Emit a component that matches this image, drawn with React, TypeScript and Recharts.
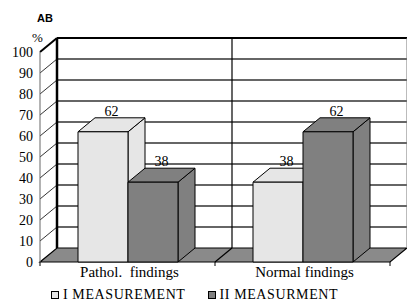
import { BarChart, Bar, XAxis, YAxis, CartesianGrid, Legend, LabelList } from 'recharts';

const CATEGORIES = ['Pathol.  findings', 'Normal findings'];
const MEASUREMENT_I = [62, 38];
const MEASUREMENT_II = [38, 62];
const SERIES_NAMES = ['I MEASUREMENT', 'II MEASURMENT'];
const Y_TICKS = [0, 10, 20, 30, 40, 50, 60, 70, 80, 90, 100];

const data = CATEGORIES.map((name, i) => ({
  name,
  m1: MEASUREMENT_I[i],
  m2: MEASUREMENT_II[i],
}));

// depth of the fake 3d box
const DX = 17;
const DY = -14;
const LIGHT = '#e6e6e6';
const DARK = '#808080';
const FLOOR = '#8a8a8a';
const SERIF = '"Liberation Serif", "Times New Roman", serif';

const Box = (props: any) => {
  const { x, y, width, height, fill } = props;
  if (!height) return null;
  const r = x + width;
  const b = y + height;
  return (
    <g stroke="#000" strokeWidth={1} strokeLinejoin="round">
      <polygon points={`${r},${y} ${r + DX},${y + DY} ${r + DX},${b + DY} ${r},${b}`} fill={fill} />
      <polygon points={`${x},${y} ${x + DX},${y + DY} ${r + DX},${y + DY} ${r},${y}`} fill={fill} />
      <rect x={x} y={y} width={width} height={height} fill={fill} />
    </g>
  );
};

const TopLabel = (props: any) => {
  const { x, y, width, value } = props;
  return (
    <text x={x + width / 2 + DX / 2} y={y + DY - 2} textAnchor="middle" fontSize={14} fontFamily={SERIF} fill="#000">
      {value}
    </text>
  );
};

const wallLine = (props: any) => {
  const { x1, x2, y1, y, height, index } = props;
  const top = y;
  const bottom = y + height;
  const isBottom = Math.abs(y1 - bottom) < 0.5;
  const isTop = Math.abs(y1 - top) < 0.5;
  const band = (x2 - x1) / CATEGORIES.length;
  const bounds = Array.from({ length: CATEGORIES.length + 1 }, (_, k) => x1 + k * band);
  const parts: any[] = [];

  if (isBottom) {
    parts.push(
      <polygon
        key="floor"
        points={`${x1},${bottom} ${x2},${bottom} ${x2 + DX},${bottom + DY} ${x1 + DX},${bottom + DY}`}
        fill={FLOOR}
        stroke="#000"
        strokeWidth={1.2}
      />
    );
    bounds.forEach((bx, k) => {
      if (k > 0 && k < bounds.length - 1) {
        parts.push(<line key={`fd${k}`} x1={bx} y1={bottom} x2={bx + DX} y2={bottom + DY} stroke="#000" strokeWidth={1.2} />);
      }
      parts.push(<line key={`ft${k}`} x1={bx} y1={bottom} x2={bx} y2={bottom + 4} stroke="#000" strokeWidth={1} />);
    });
  } else {
    parts.push(
      <line
        key="back"
        x1={x1 + DX}
        y1={y1 + DY}
        x2={x2 + DX}
        y2={y1 + DY}
        stroke={isTop ? '#000' : '#333'}
        strokeWidth={isTop ? 2.2 : 1.3}
      />
    );
    parts.push(
      <line key="side" x1={x1} y1={y1} x2={x1 + DX} y2={y1 + DY} stroke={isTop ? '#000' : '#333'} strokeWidth={isTop ? 2 : 1} />
    );
  }

  if (isTop) {
    parts.push(<line key="lv" x1={x1 + DX} y1={top + DY} x2={x1 + DX} y2={bottom + DY} stroke="#000" strokeWidth={2.5} />);
    parts.push(<line key="rv" x1={x2 + DX} y1={top + DY} x2={x2 + DX} y2={bottom + DY} stroke="#777" strokeWidth={1} />);
    bounds.slice(1, -1).forEach((bx, k) => {
      parts.push(<line key={`dv${k}`} x1={bx + DX} y1={top + DY} x2={bx + DX} y2={bottom + DY} stroke="#000" strokeWidth={1.2} />);
    });
  }

  return <g key={`wall-${index}`}>{parts}</g>;
};

const LegendBox = (props: any) => {
  const items = props.payload || [];
  return (
    <div style={{ display: 'flex', alignItems: 'center', height: 22, paddingLeft: 51, fontFamily: SERIF, fontSize: 14, letterSpacing: 0.6, color: '#000' }}>
      {items.map((it: any, i: number) => (
        <div key={i} style={{ display: 'flex', alignItems: 'center', marginRight: 22 }}>
          <span style={{ width: 6, height: 6, border: '1px solid #000', background: it.color, marginRight: 4, display: 'inline-block' }} />
          <span>{it.value}</span>
        </div>
      ))}
    </div>
  );
};

export default function App() {
  return (
    <div style={{ position: 'absolute', left: 0, top: 0, width: 407, height: 306, background: '#fff' }}>
      <BarChart width={407} height={306} data={data} margin={{ top: 52, right: 17, bottom: 0, left: 0 }} barSize={50} barGap={0}>
        <CartesianGrid horizontal={wallLine} vertical={false} />
        <XAxis
          dataKey="name"
          height={22}
          axisLine={false}
          tickLine={false}
          tickSize={0}
          tickMargin={0}
          interval={0}
          tick={(p: any) => (
            <text x={p.x + 2} y={p.y + 15} textAnchor="middle" fontSize={15} fontFamily={SERIF} fill="#000" style={{ whiteSpace: 'pre' }}>
              {p.payload.value}
            </text>
          )}
        />
        <YAxis
          width={40}
          domain={[0, 100]}
          ticks={Y_TICKS}
          interval={0}
          tickLine={false}
          tickSize={0}
          tickMargin={7}
          axisLine={{ stroke: '#666', strokeWidth: 1 }}
          tick={(p: any) => (
            <text x={p.x} y={p.y + 5} textAnchor="end" fontSize={14} fontFamily={SERIF} fill="#000">
              {p.payload.value}
            </text>
          )}
        />
        <Legend verticalAlign="bottom" align="left" height={22} content={LegendBox} />
        <Bar dataKey="m1" name={SERIES_NAMES[0]} fill={LIGHT} shape={Box} isAnimationActive={false}>
          <LabelList dataKey="m1" content={TopLabel} />
        </Bar>
        <Bar dataKey="m2" name={SERIES_NAMES[1]} fill={DARK} shape={Box} isAnimationActive={false}>
          <LabelList dataKey="m2" content={TopLabel} />
        </Bar>
      </BarChart>
      <svg width={407} height={306} style={{ position: 'absolute', left: 0, top: 0, pointerEvents: 'none' }}>
        <text x={37} y={22} fontSize={11} fontWeight="bold" fontFamily='"Liberation Sans", Arial, sans-serif' fill="#000">
          AB
        </text>
        <text x={32} y={42} fontSize={13} fontFamily={SERIF} fill="#000">
          %
        </text>
      </svg>
    </div>
  );
}
